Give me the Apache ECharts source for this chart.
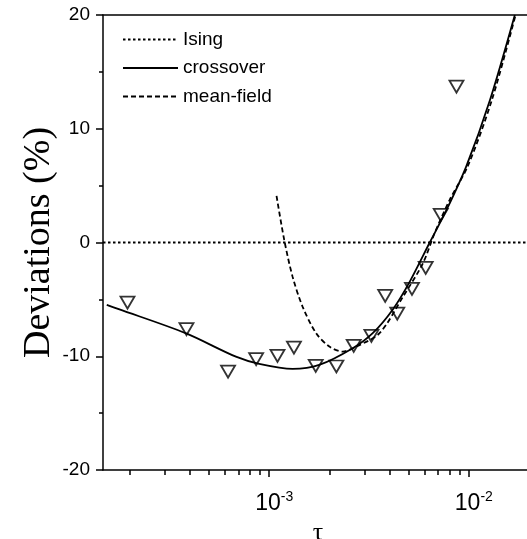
<!DOCTYPE html>
<html><head><meta charset="utf-8">
<script src="https://cdn.jsdelivr.net/npm/echarts@6/dist/echarts.min.js"></script>
<style>html,body{margin:0;padding:0;background:#fff}#c{width:527px;height:539px}</style>
</head><body><div id="c"></div>
<script>
// Measured data (tau, deviation %)
const pointsTau = [1.95e-4, 3.85e-4, 6.22e-4, 8.6e-4, 1.10e-3, 1.33e-3, 1.71e-3, 2.17e-3, 2.65e-3, 3.25e-3, 3.81e-3, 4.38e-3, 5.19e-3, 6.08e-3, 7.23e-3, 8.67e-3];
const pointsDev = [-5.28, -7.62, -11.35, -10.26, -9.97, -9.24, -10.85, -10.9, -9.09, -8.21, -4.69, -6.25, -4.08, -2.23, 2.43, 13.7];

// crossover curve
const crossTau = [1.535e-4, 1.763e-4, 3.81e-4, 6.81e-4, 8.91e-4, 1.31e-3, 1.78e-3, 2.62e-3, 3.30e-3, 4.17e-3, 5.06e-3, 6.37e-3, 7.73e-3, 9.73e-3, 1.275e-2, 1.70e-2];
const crossDev = [-5.49, -5.86, -7.97, -10.04, -10.67, -11.11, -10.76, -9.29, -7.97, -5.86, -3.44, 0.0, 2.86, 6.74, 12.5, 20.0];

// mean-field curve
const mfTau = [1.088e-3, 1.189e-3, 1.309e-3, 1.469e-3, 1.717e-3, 2.0e-3, 2.335e-3, 2.73e-3, 3.57e-3, 4.68e-3, 5.89e-3, 6.74e-3, 8.02e-3, 9.89e-3, 1.305e-2, 1.714e-2];
const mfDev = [4.10, 0.23, -3.0, -5.63, -7.97, -9.15, -9.59, -9.15, -7.97, -4.76, -1.82, 0.82, 3.75, 6.73, 12.54, 20.0];

// Ising line
const isingTau = [1.47e-4, 1.956e-2];
const isingDev = [0, 0];

// ticks
const xMajorTicks = [1e-3, 1e-2];
const xMajorExp = ['-3', '-2'];
const xMinorTicks = [2e-4, 3e-4, 4e-4, 5e-4, 6e-4, 7e-4, 8e-4, 9e-4, 2e-3, 3e-3, 4e-3, 5e-3, 6e-3, 7e-3, 8e-3, 9e-3];
const xMin = 1.47e-4, xMax = 1.956e-2;

const zip = (a, b) => a.map((v, i) => [v, b[i]]);
const black = '#000';
const chart = echarts.init(document.getElementById('c'), null, {renderer: 'canvas'});
const baseX = {type: 'log', logBase: 10, min: xMin, max: xMax, gridIndex: 0, splitLine: {show: false}};
chart.setOption({
  animation: false,
  backgroundColor: '#fff',
  grid: {left: 103, top: 15, right: 0, bottom: 69, containLabel: false, outerBoundsMode: 'none'},
  legend: {
    orient: 'vertical', left: 122, top: 30, padding: 0, itemWidth: 55, itemHeight: 18, itemGap: 9.5,
    data: ['Ising', 'crossover', 'mean-field'],
    itemStyle: {color: 'rgba(0,0,0,0)', borderColor: 'rgba(0,0,0,0)', borderWidth: 0, opacity: 0},
    textStyle: {fontFamily: 'Liberation Sans, Arial', fontSize: 19, color: black},
    selectedMode: false
  },
  xAxis: [
    Object.assign({}, baseX, {
      position: 'bottom',
      name: 'τ', nameLocation: 'middle', nameGap: 40,
      nameTextStyle: {fontFamily: 'Liberation Serif, Times New Roman', fontSize: 26, color: black, padding: [0, 0, 0, 6]},
      axisLine: {show: true, onZero: false, lineStyle: {color: black, width: 1.5}},
      axisTick: {show: true, inside: false, length: 7, customValues: xMajorTicks, lineStyle: {color: black, width: 1.5}},
      axisLabel: {
        show: true, margin: 20, customValues: xMajorTicks,
        formatter: function (v) {
          const i = xMajorTicks.findIndex(t => Math.abs(Math.log10(t) - Math.log10(v)) < 1e-6);
          return i < 0 ? '' : '{b|10}{s|' + xMajorExp[i] + '}';
        },
        rich: {
          b: {fontFamily: 'Liberation Sans, Arial', fontSize: 23, color: black, padding: [0, 0, 0, 10]},
          s: {fontFamily: 'Liberation Sans, Arial', fontSize: 14, color: black, padding: [0, 0, 13, 0]}
        }
      }
    }),
    Object.assign({}, baseX, {
      position: 'bottom',
      axisLine: {show: false, onZero: false},
      axisTick: {show: true, inside: false, length: 5, customValues: xMinorTicks, lineStyle: {color: black, width: 1.5}},
      axisLabel: {show: false}
    }),
    Object.assign({}, baseX, {
      position: 'top',
      axisLine: {show: true, onZero: false, lineStyle: {color: black, width: 1.5}},
      axisTick: {show: false},
      axisLabel: {show: false}
    })
  ],
  yAxis: {
    type: 'value', min: -20, max: 20, interval: 10,
    name: 'Deviations (%)', nameLocation: 'middle', nameGap: 45, nameMoveOverlap: false,
    nameTextStyle: {fontFamily: 'Liberation Serif, Times New Roman', fontSize: 38, color: black},
    axisLine: {show: true, onZero: false, lineStyle: {color: black, width: 1.5}},
    axisTick: {show: true, inside: false, length: 7, lineStyle: {color: black, width: 1.5}},
    minorTick: {show: true, splitNumber: 2, length: 4, lineStyle: {color: black, width: 1.5}},
    splitLine: {show: false},
    axisLabel: {margin: 13, fontFamily: 'Liberation Sans, Arial', fontSize: 19, color: black}
  },
  series: [
    {name: 'Ising', type: 'line', xAxisIndex: 0, data: zip(isingTau, isingDev), symbol: 'none',
     lineStyle: {color: black, width: 2.2, type: [2.5, 2.5]}, itemStyle: {color: black}, z: 2},
    {name: 'crossover', type: 'line', xAxisIndex: 0, data: zip(crossTau, crossDev), symbol: 'none', smooth: 0.3,
     lineStyle: {color: black, width: 1.8, type: 'solid'}, itemStyle: {color: black}, z: 3},
    {name: 'mean-field', type: 'line', xAxisIndex: 0, data: zip(mfTau, mfDev), symbol: 'none', smooth: 0.3,
     lineStyle: {color: black, width: 1.8, type: [5, 3]}, itemStyle: {color: black}, z: 3},
    {name: 'data', type: 'scatter', xAxisIndex: 0, data: zip(pointsTau, pointsDev),
     symbol: 'triangle', symbolRotate: 180, symbolSize: [14, 12],
     itemStyle: {color: 'rgba(255,255,255,0)', borderColor: black, borderWidth: 1.8}, z: 4}
  ]
});
</script></body></html>
